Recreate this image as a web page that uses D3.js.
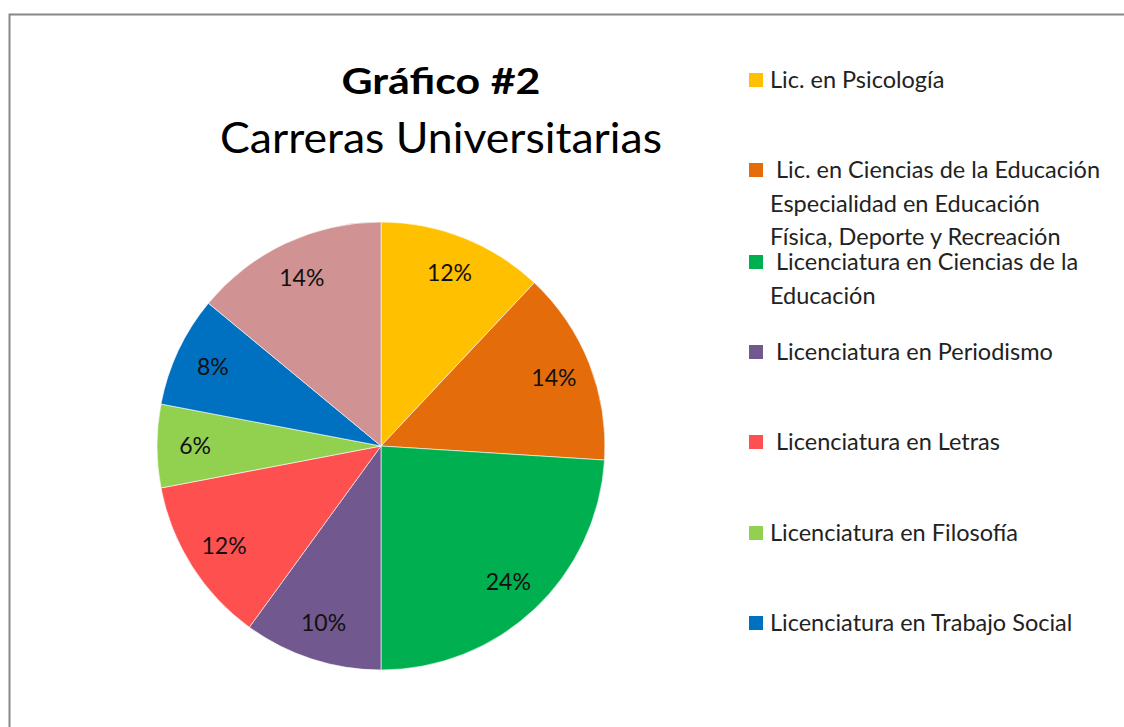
<!DOCTYPE html>
<html><head><meta charset="utf-8">
<script src="https://cdn.jsdelivr.net/npm/d3@7"></script>
<style>html,body{margin:0;padding:0;background:#fff;}svg{display:block;}</style>
</head><body>
<svg id="c" width="1124" height="727"></svg>
<script>
const categories = [
  "Lic. en Psicología",
  " Lic. en Ciencias de la Educación|Especialidad en Educación|Física, Deporte y Recreación",
  " Licenciatura en Ciencias de la|Educación",
  " Licenciatura en Periodismo",
  " Licenciatura en Letras",
  "Licenciatura en Filosofía",
  "Licenciatura en Trabajo Social",
  ""
];
const values = [12, 14, 24, 10, 12, 6, 8, 14];
const colors = ["#FFC000", "#E46C0A", "#00B050", "#71588F", "#FF5050", "#92D050", "#0070C0", "#D09292"];
const legendRows = [80, 170, 262, 352, 442, 533, 623];

const svg = d3.select("#c");
const font = "Lato, 'Open Sans', sans-serif";

svg.append("rect").attr("x", 9.5).attr("y", 14.5).attr("width", 1130).attr("height", 730)
  .attr("fill", "#fff").attr("stroke", "#888").attr("stroke-width", 2);

svg.append("text").attr("x", 441).attr("y", 94).attr("text-anchor", "middle")
  .attr("font-family", font).attr("font-weight", "bold").attr("font-size", 37).attr("fill", "#000")
  .attr("textLength", 199).attr("lengthAdjust", "spacingAndGlyphs")
  .text("Gráfico #2");
svg.append("text").attr("x", 441).attr("y", 153).attr("text-anchor", "middle")
  .attr("font-family", font).attr("font-size", 42).attr("fill", "#000")
  .attr("textLength", 442).attr("lengthAdjust", "spacingAndGlyphs")
  .text("Carreras Universitarias");

const cx = 381, cy = 446, r = 224;
const g = svg.append("g").attr("transform", `translate(${cx},${cy})`);
const pie = d3.pie().sort(null).value(d => d);
const arcs = pie(values);
const arc = d3.arc().innerRadius(0).outerRadius(r);
const labelArc = d3.arc().innerRadius(r * 0.83).outerRadius(r * 0.83);

g.selectAll("path").data(arcs).join("path")
  .attr("d", arc).attr("fill", (d, i) => colors[i])
  .attr("stroke", "#fff").attr("stroke-width", 0.6);

g.selectAll("text.lbl").data(arcs).join("text").attr("class", "lbl")
  .attr("transform", d => `translate(${labelArc.centroid(d)})`)
  .attr("text-anchor", "middle").attr("dy", "0.36em")
  .attr("font-family", font).attr("font-size", 23).attr("fill", "#111")
  .text(d => d.data + "%");

const lg = svg.append("g");
legendRows.forEach((y, i) => {
  lg.append("rect").attr("x", 749).attr("y", y - 7).attr("width", 14).attr("height", 14)
    .attr("fill", colors[i]);
  const lines = categories[i].split("|");
  const t = lg.append("text").attr("font-family", font).attr("font-size", 23.5).attr("fill", "#222")
    .attr("xml:space", "preserve");
  lines.forEach((ln, j) => {
    t.append("tspan").attr("x", 770).attr("y", y + 8 + j * 33.5).text(ln);
  });
});
</script>
</body></html>
